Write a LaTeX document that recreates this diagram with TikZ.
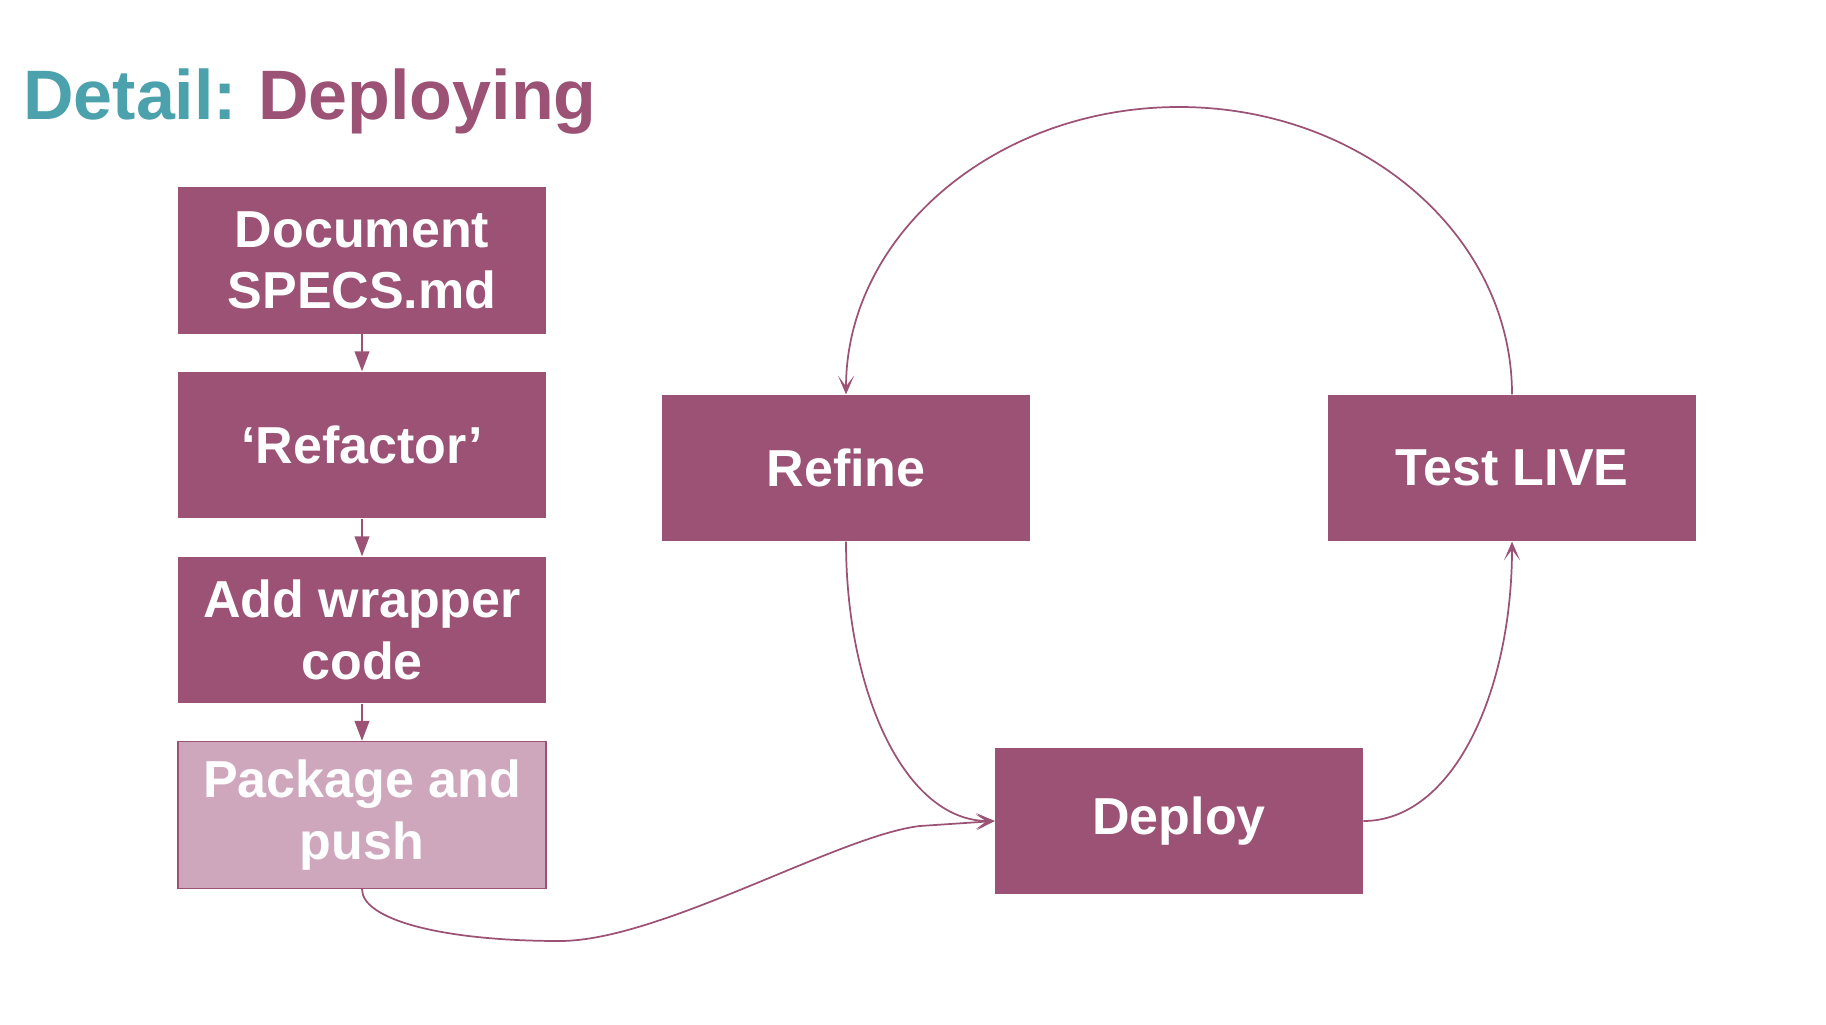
\documentclass[tikz,border=0pt]{standalone}
\usepackage{fontspec}
\setmainfont{Liberation Sans}
\usetikzlibrary{arrows.meta}
\definecolor{plum}{RGB}{155,82,117}
\definecolor{plumlight}{RGB}{207,167,189}
\definecolor{titleteal}{RGB}{75,161,172}
\begin{document}
\begin{tikzpicture}[x=0.75pt,y=-0.75pt,
  stepbox/.style={fill=plum, text=white, inner sep=0pt,
    minimum width=276pt, minimum height=110pt, align=center,
    font=\fontsize{39}{46}\selectfont\bfseries},
  lightbox/.style={stepbox, fill=plumlight, draw=plum, line width=1.2pt},
  flow/.style={draw=plum, line width=1.3pt, -{Triangle[length=15pt,width=11pt]}},
  cyc/.style={draw=plum, line width=1.3pt, -{Stealth[length=14pt,width=12pt,inset=8pt]}}]
\useasboundingbox (0,0) rectangle (1826,1024);

% heading
\node[anchor=base west, inner sep=0pt, font=\fontsize{52.5}{60}\selectfont\bfseries]
  (title) at (23,119) {\textcolor{titleteal}{Detail:}\hskip0.3em\textcolor{plum}{Deploying}};

% linear preparation steps
\node[stepbox]  (doc)  at (362,260.5) {Document\\SPECS.md};
\node[stepbox]  (ref)  at (362,445)   {‘Refactor’};
\node[stepbox]  (wrap) at (362,630)   {Add wrapper\\code};
\node[lightbox] (pkg)  at (362,815)   {Package and\\push};

% deployment cycle
\node[stepbox] (refine) at (846,468)  {Refine};
\node[stepbox] (test)   at (1512,468) {Test LIVE};
\node[stepbox] (deploy) at (1179,821) {Deploy};
\coordinate (apex) at (1179,107);
\coordinate (low)  at (560,941);
\coordinate (bend) at (920,826);

\draw[flow] (doc) -- (ref);
\draw[flow] (ref) -- (wrap);
\draw[flow] (wrap) -- (pkg);

\draw[cyc] (pkg.south) .. controls +(0,30) and +(-120,0) .. (low)
  .. controls +(100,0) and +(-80,9) .. (bend) -- (deploy.west);
\draw[cyc] (refine.south) .. controls +(0,150) and +(-90,0) .. (deploy.west);
\draw[cyc] (deploy.east) .. controls +(90,0) and +(0,150) .. (test.south);
\draw[cyc] (test.north) .. controls +(0,-159) and +(184,0) .. (apex)
  .. controls +(-184,0) and +(0,-159) .. (refine.north);
\end{tikzpicture}
\end{document}
